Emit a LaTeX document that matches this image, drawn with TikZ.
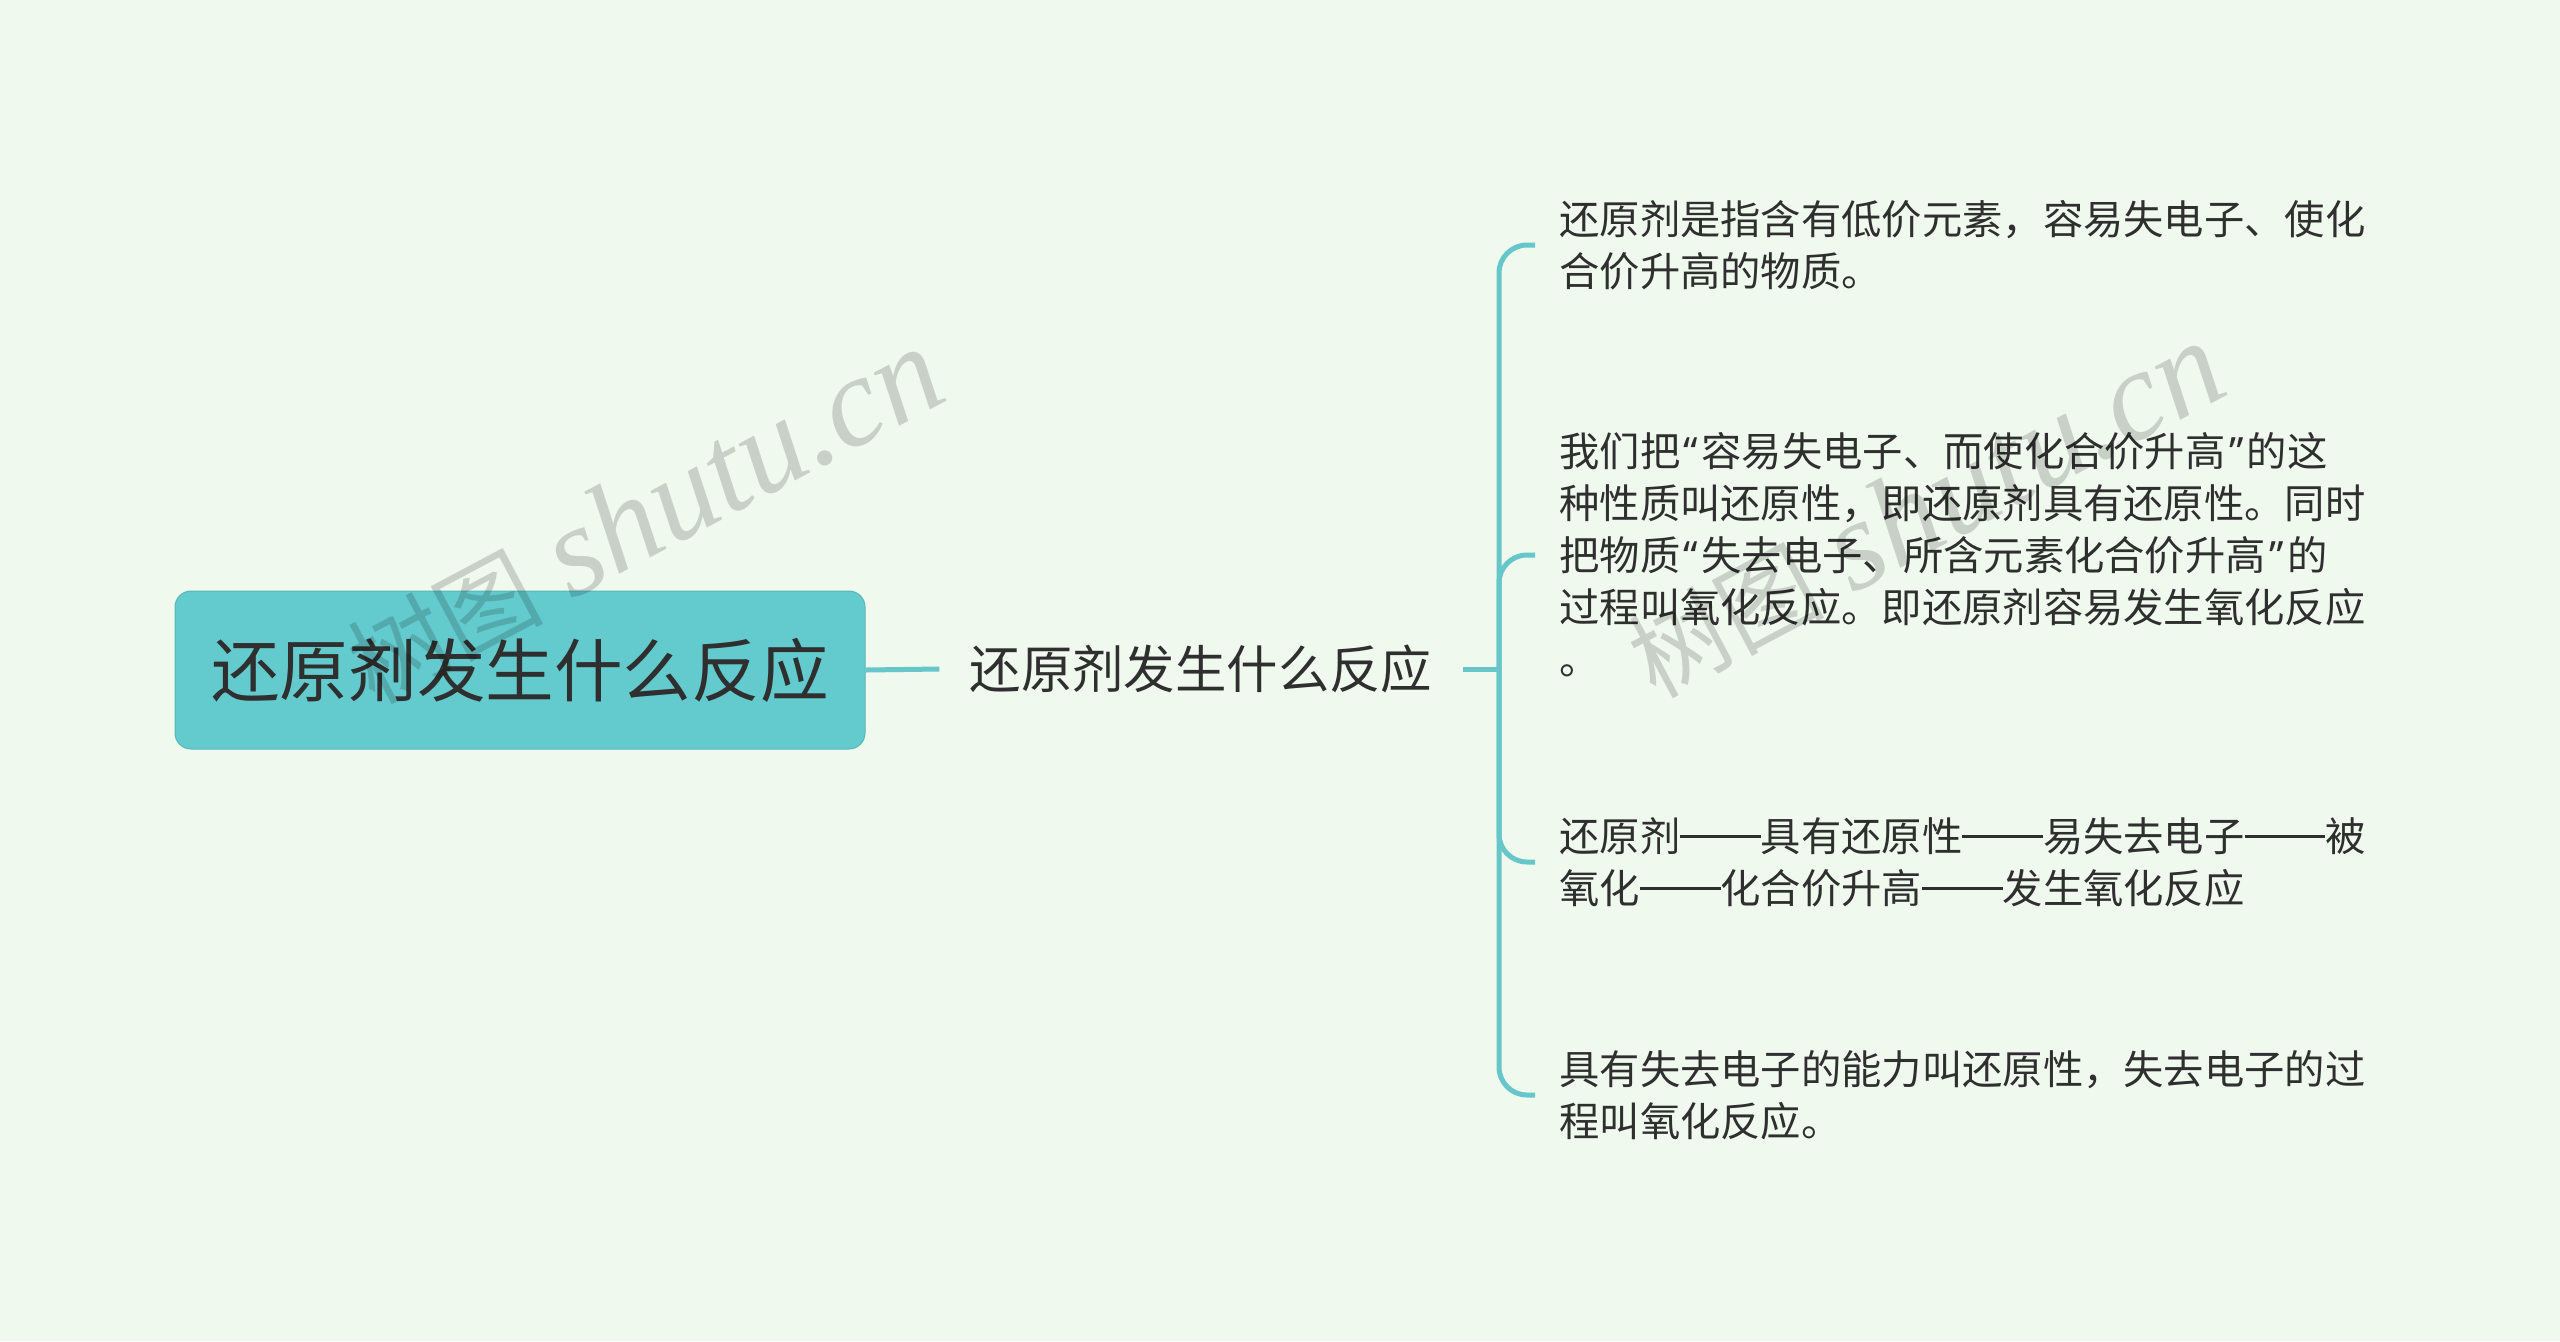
\documentclass[tikz,border=0pt]{standalone}
\usepackage{fontspec}
\setmainfont{Noto Sans CJK SC}
\newfontfamily\wmlatin{Liberation Serif}
\newfontfamily\wmcjk{Noto Sans CJK SC}
\newfontfamily\qfont{Noto Sans}
\newcommand{\openq}{\makebox[0.53em][c]{\qfont “}}
\newcommand{\closeq}{\makebox[0.53em][c]{\qfont ”}}
\newcommand{\dashpair}{\rule[0.34em]{2em}{0.055em}}
\definecolor{bgc}{HTML}{EFF9EE}
\definecolor{boxc}{HTML}{63CBCD}
\definecolor{linec}{HTML}{66C6CA}
\definecolor{txt}{HTML}{2F2F2F}
\begin{document}
\begin{tikzpicture}[x=0.5pt,y=-0.5pt,
  rootbox/.style={fill=boxc, draw=boxc!90!black, line width=0.5pt, rounded corners=8pt,
    minimum width=345pt, minimum height=79pt, inner sep=0pt,
    font=\fontsize{34.3pt}{40pt}\selectfont, text=txt},
  midtext/.style={inner xsep=15pt, inner ysep=4pt, font=\fontsize{25.7pt}{30pt}\selectfont, text=txt},
  leaftext/.style={anchor=west, inner xsep=12pt, inner ysep=0pt, align=left,
    font=\fontsize{20.15pt}{26pt}\selectfont, text=txt},
  conn/.style={draw=linec, line width=2.5pt},
  branch/.style={conn, rounded corners=14pt},
  wm/.style={text=black, opacity=0.16, rotate=28, anchor=base east, inner sep=0pt}]
\useasboundingbox (0,0) rectangle (2560,1341);
\fill[bgc] (0,0) rectangle (2560,1341);

\node[rootbox] (root) at (520,670) {还原剂发生什么反应};
\node[midtext] (mid) at (1201,669) {还原剂发生什么反应};
\coordinate (j) at (1499,669);

\node[leaftext] (c1) at (1535,245) {还原剂是指含有低价元素，容易失电子、使化\\合价升高的物质。};
\node[leaftext] (c2) at (1535,555) {我们把\openq 容易失电子、而使化合价升高\closeq 的这\\种性质叫还原性，即还原剂具有还原性。同时\\把物质\openq 失去电子、所含元素化合价升高\closeq 的\\过程叫氧化反应。即还原剂容易发生氧化反应\\。};
\node[leaftext] (c3) at (1535,862) {还原剂\dashpair 具有还原性\dashpair 易失去电子\dashpair 被\\氧化\dashpair 化合价升高\dashpair 发生氧化反应};
\node[leaftext] (c4) at (1535,1095) {具有失去电子的能力叫还原性，失去电子的过\\程叫氧化反应。};

\draw[conn] (root.east) -- (mid.west);
\draw[conn] (mid.east) -- (j);
\draw[branch] (j) |- (c1.west);
\draw[branch] (j) |- (c2.west);
\draw[branch] (j) |- (c3.west);
\draw[branch] (j) |- (c4.west);

\node[wm] (wm1) at (952,398) {{\wmcjk\fontsize{49pt}{54pt}\selectfont 树图}\hspace{14pt}{\wmlatin\itshape\fontsize{64pt}{68pt}\selectfont shutu.cn}};
\node[wm] (wm2) at (2233,392) {{\wmcjk\fontsize{49pt}{54pt}\selectfont 树图}\hspace{14pt}{\wmlatin\itshape\fontsize{64pt}{68pt}\selectfont shutu.cn}};
\end{tikzpicture}
\end{document}
